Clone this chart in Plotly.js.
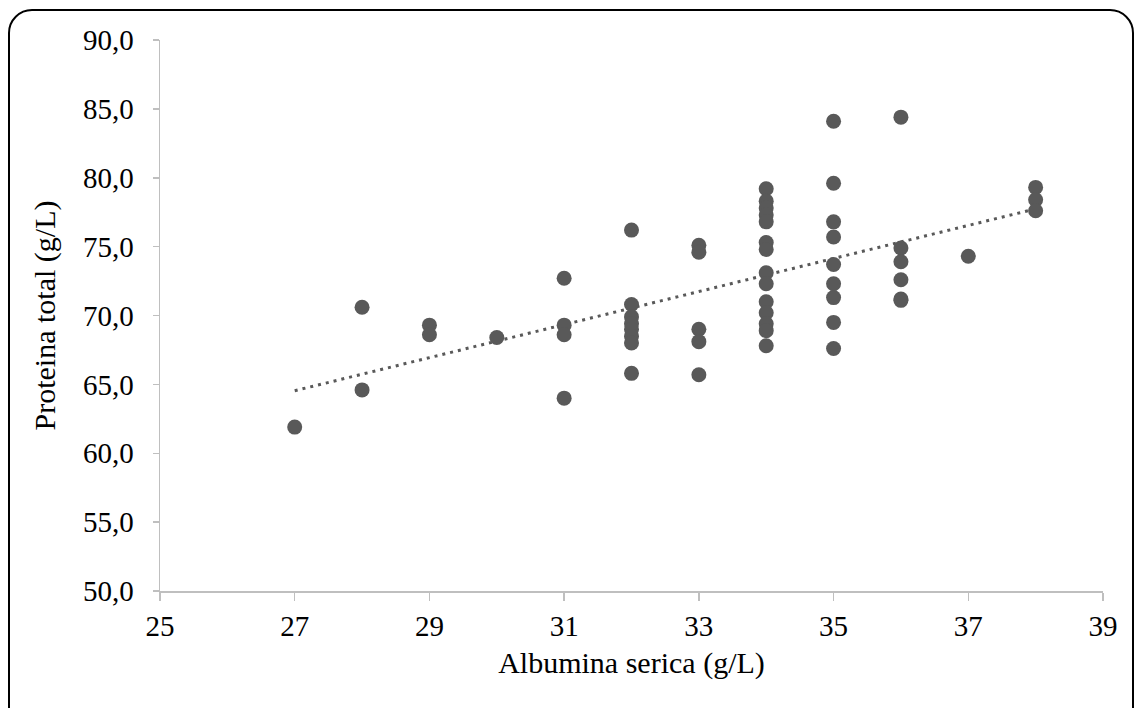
<!DOCTYPE html>
<html>
<head>
<meta charset="utf-8">
<script src="https://cdn.plot.ly/plotly-3.0.1.min.js"></script>
<style>
  html, body { margin: 0; padding: 0; background: #ffffff; }
  #wrap { position: relative; width: 1139px; height: 708px; overflow: hidden; }
  #chart { position: absolute; left: 0; top: 0; width: 1139px; height: 708px; }
  #frame { position: absolute; left: 8px; top: 9px; width: 1122px; height: 720px;
           border: 2px solid #000; border-radius: 24px; pointer-events: none; }
</style>
</head>
<body>
<div id="wrap">
  <div id="chart"></div>
  <div id="frame"></div>
</div>
<script>
// Albumina serica (g/L)
const albumina = [
  27,
  28, 28,
  29, 29,
  30,
  31, 31, 31, 31,
  32, 32, 32, 32, 32, 32, 32, 32,
  33, 33, 33, 33, 33,
  34, 34, 34, 34, 34, 34, 34, 34, 34, 34, 34, 34, 34, 34,
  35, 35, 35, 35, 35, 35, 35, 35, 35,
  36, 36, 36, 36, 36, 36,
  37,
  38, 38, 38
];
// Proteina total (g/L)
const proteina = [
  61.9,
  70.6, 64.6,
  69.3, 68.6,
  68.4,
  72.7, 69.3, 68.6, 64.0,
  76.2, 70.8, 69.9, 69.4, 69.0, 68.5, 68.0, 65.8,
  75.1, 74.6, 69.0, 68.1, 65.7,
  79.2, 78.3, 77.8, 77.3, 76.8, 75.3, 74.8, 73.1, 72.3, 71.0, 70.2, 69.4, 68.9, 67.8,
  84.1, 79.6, 76.8, 75.7, 73.7, 72.3, 71.3, 69.5, 67.6,
  84.4, 74.9, 73.9, 72.6, 71.2, 71.1,
  74.3,
  79.3, 78.4, 77.6
];
const xTicks = [25, 27, 29, 31, 33, 35, 37, 39];
const yTicks = [50, 55, 60, 65, 70, 75, 80, 85, 90];
const yTickLabels = ["50,0", "55,0", "60,0", "65,0", "70,0", "75,0", "80,0", "85,0", "90,0"];

// linear trend (least squares) from the data
const n = albumina.length;
const mx = albumina.reduce((a, b) => a + b, 0) / n;
const my = proteina.reduce((a, b) => a + b, 0) / n;
let sxy = 0, sxx = 0;
for (let i = 0; i < n; i++) { sxy += (albumina[i] - mx) * (proteina[i] - my); sxx += (albumina[i] - mx) ** 2; }
const slope = sxy / sxx, intercept = my - slope * mx;
const xMin = Math.min(...albumina), xMax = Math.max(...albumina);
const trendX = [xMin, xMax];
const trendY = trendX.map(v => intercept + slope * v);

const grey = "#595959";
const font = "'Liberation Serif', 'Times New Roman', serif";

const traces = [
  { x: trendX, y: trendY, type: "scatter", mode: "lines",
    line: { color: grey, width: 3, dash: "3px,5px" }, hoverinfo: "skip", showlegend: false },
  { x: albumina, y: proteina, type: "scatter", mode: "markers",
    marker: { color: grey, size: 15, line: { width: 0 } }, showlegend: false }
];

const layout = {
  width: 1139, height: 708,
  margin: { l: 160, r: 36, t: 40, b: 117 },
  paper_bgcolor: "#ffffff", plot_bgcolor: "#ffffff",
  font: { family: font, color: "#000000", size: 29 },
  showlegend: false,
  xaxis: {
    range: [25, 39], tickvals: xTicks, ticktext: xTicks.map(String),
    showgrid: false, zeroline: false,
    showline: true, linecolor: "#bfbfbf", linewidth: 1.5,
    ticks: "outside", ticklen: 8, tickcolor: "#bfbfbf", tickwidth: 1.5,
    ticklabelstandoff: 1,
    tickfont: { family: font, size: 29, color: "#000" },
    title: { text: "Albumina serica (g/L)", font: { family: font, size: 30, color: "#000" }, standoff: 10 }
  },
  yaxis: {
    range: [50, 90], tickvals: yTicks, ticktext: yTickLabels,
    showgrid: false, zeroline: false,
    showline: true, linecolor: "#bfbfbf", linewidth: 1.5,
    ticks: "outside", ticklen: 6, tickcolor: "#bfbfbf", tickwidth: 1.5,
    ticklabelstandoff: 13,
    tickfont: { family: font, size: 29, color: "#000" },
    title: { text: "Proteina total (g/L)", font: { family: font, size: 30, color: "#000" }, standoff: 18 }
  }
};

Plotly.newPlot("chart", traces, layout, { displayModeBar: false, staticPlot: true });
</script>
</body>
</html>
